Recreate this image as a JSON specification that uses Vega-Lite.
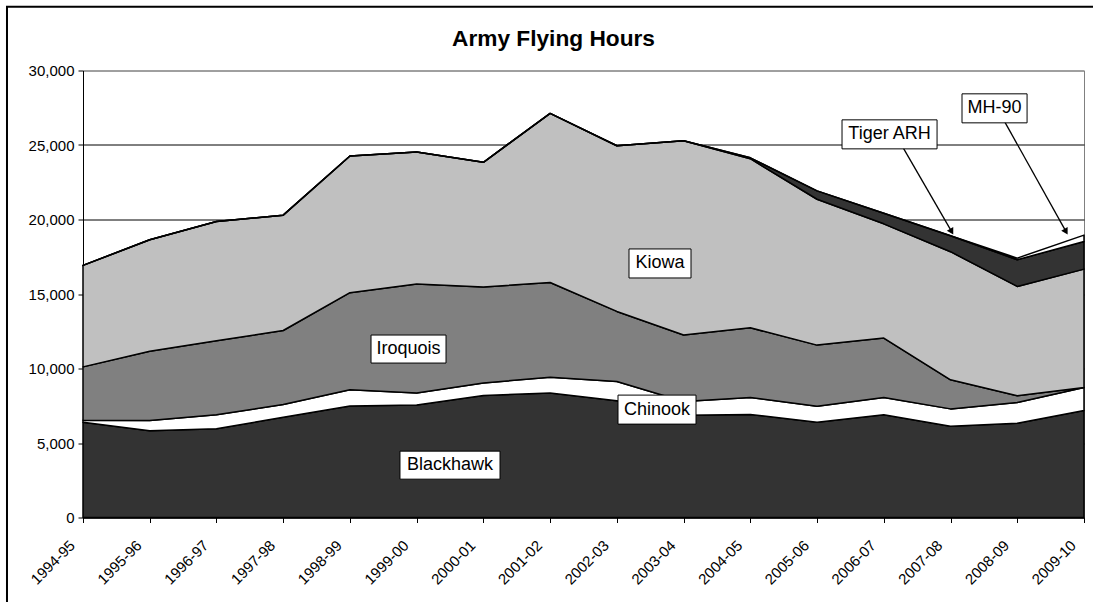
{
  "$schema": "https://vega.github.io/schema/vega-lite/v6.json",
  "width": 1001,
  "height": 447,
  "autosize": {"type": "none"},
  "padding": {"left": 83, "top": 70.5, "right": 9, "bottom": 84.5},
  "background": "white",
  "config": {
    "view": {"stroke": "#808080", "strokeWidth": 1},
    "font": "Liberation Sans"
  },
  "title": {
    "text": "Army Flying Hours",
    "font": "Liberation Sans",
    "fontSize": 22.7,
    "fontWeight": "bold",
    "color": "black",
    "anchor": "middle",
    "frame": "group",
    "baseline": "alphabetic",
    "dx": -30,
    "offset": -63
  },
  "datasets": {
    "flying": [
      {"fy": 1994, "series": "Blackhawk", "hours": 6400},
      {"fy": 1994, "series": "Chinook", "hours": 130},
      {"fy": 1994, "series": "Iroquois", "hours": 3580},
      {"fy": 1994, "series": "Kiowa", "hours": 6810},
      {"fy": 1994, "series": "Tiger ARH", "hours": 0},
      {"fy": 1994, "series": "MH-90", "hours": 0},
      {"fy": 1995, "series": "Blackhawk", "hours": 5820},
      {"fy": 1995, "series": "Chinook", "hours": 690},
      {"fy": 1995, "series": "Iroquois", "hours": 4650},
      {"fy": 1995, "series": "Kiowa", "hours": 7480},
      {"fy": 1995, "series": "Tiger ARH", "hours": 0},
      {"fy": 1995, "series": "MH-90", "hours": 0},
      {"fy": 1996, "series": "Blackhawk", "hours": 5950},
      {"fy": 1996, "series": "Chinook", "hours": 940},
      {"fy": 1996, "series": "Iroquois", "hours": 4970},
      {"fy": 1996, "series": "Kiowa", "hours": 8000},
      {"fy": 1996, "series": "Tiger ARH", "hours": 0},
      {"fy": 1996, "series": "MH-90", "hours": 0},
      {"fy": 1997, "series": "Blackhawk", "hours": 6730},
      {"fy": 1997, "series": "Chinook", "hours": 850},
      {"fy": 1997, "series": "Iroquois", "hours": 4970},
      {"fy": 1997, "series": "Kiowa", "hours": 7740},
      {"fy": 1997, "series": "Tiger ARH", "hours": 0},
      {"fy": 1997, "series": "MH-90", "hours": 0},
      {"fy": 1998, "series": "Blackhawk", "hours": 7490},
      {"fy": 1998, "series": "Chinook", "hours": 1080},
      {"fy": 1998, "series": "Iroquois", "hours": 6520},
      {"fy": 1998, "series": "Kiowa", "hours": 9170},
      {"fy": 1998, "series": "Tiger ARH", "hours": 0},
      {"fy": 1998, "series": "MH-90", "hours": 0},
      {"fy": 1999, "series": "Blackhawk", "hours": 7550},
      {"fy": 1999, "series": "Chinook", "hours": 810},
      {"fy": 1999, "series": "Iroquois", "hours": 7310},
      {"fy": 1999, "series": "Kiowa", "hours": 8860},
      {"fy": 1999, "series": "Tiger ARH", "hours": 0},
      {"fy": 1999, "series": "MH-90", "hours": 0},
      {"fy": 2000, "series": "Blackhawk", "hours": 8190},
      {"fy": 2000, "series": "Chinook", "hours": 840},
      {"fy": 2000, "series": "Iroquois", "hours": 6440},
      {"fy": 2000, "series": "Kiowa", "hours": 8370},
      {"fy": 2000, "series": "Tiger ARH", "hours": 0},
      {"fy": 2000, "series": "MH-90", "hours": 0},
      {"fy": 2001, "series": "Blackhawk", "hours": 8360},
      {"fy": 2001, "series": "Chinook", "hours": 1060},
      {"fy": 2001, "series": "Iroquois", "hours": 6350},
      {"fy": 2001, "series": "Kiowa", "hours": 11350},
      {"fy": 2001, "series": "Tiger ARH", "hours": 0},
      {"fy": 2001, "series": "MH-90", "hours": 0},
      {"fy": 2002, "series": "Blackhawk", "hours": 7830},
      {"fy": 2002, "series": "Chinook", "hours": 1300},
      {"fy": 2002, "series": "Iroquois", "hours": 4700},
      {"fy": 2002, "series": "Kiowa", "hours": 11120},
      {"fy": 2002, "series": "Tiger ARH", "hours": 0},
      {"fy": 2002, "series": "MH-90", "hours": 0},
      {"fy": 2003, "series": "Blackhawk", "hours": 6860},
      {"fy": 2003, "series": "Chinook", "hours": 930},
      {"fy": 2003, "series": "Iroquois", "hours": 4460},
      {"fy": 2003, "series": "Kiowa", "hours": 13040},
      {"fy": 2003, "series": "Tiger ARH", "hours": 0},
      {"fy": 2003, "series": "MH-90", "hours": 0},
      {"fy": 2004, "series": "Blackhawk", "hours": 6910},
      {"fy": 2004, "series": "Chinook", "hours": 1140},
      {"fy": 2004, "series": "Iroquois", "hours": 4680},
      {"fy": 2004, "series": "Kiowa", "hours": 11350},
      {"fy": 2004, "series": "Tiger ARH", "hours": 60},
      {"fy": 2004, "series": "MH-90", "hours": 0},
      {"fy": 2005, "series": "Blackhawk", "hours": 6400},
      {"fy": 2005, "series": "Chinook", "hours": 1070},
      {"fy": 2005, "series": "Iroquois", "hours": 4100},
      {"fy": 2005, "series": "Kiowa", "hours": 9790},
      {"fy": 2005, "series": "Tiger ARH", "hours": 560},
      {"fy": 2005, "series": "MH-90", "hours": 0},
      {"fy": 2006, "series": "Blackhawk", "hours": 6890},
      {"fy": 2006, "series": "Chinook", "hours": 1160},
      {"fy": 2006, "series": "Iroquois", "hours": 3990},
      {"fy": 2006, "series": "Kiowa", "hours": 7670},
      {"fy": 2006, "series": "Tiger ARH", "hours": 710},
      {"fy": 2006, "series": "MH-90", "hours": 0},
      {"fy": 2007, "series": "Blackhawk", "hours": 6130},
      {"fy": 2007, "series": "Chinook", "hours": 1160},
      {"fy": 2007, "series": "Iroquois", "hours": 1950},
      {"fy": 2007, "series": "Kiowa", "hours": 8600},
      {"fy": 2007, "series": "Tiger ARH", "hours": 1070},
      {"fy": 2007, "series": "MH-90", "hours": 0},
      {"fy": 2008, "series": "Blackhawk", "hours": 6330},
      {"fy": 2008, "series": "Chinook", "hours": 1390},
      {"fy": 2008, "series": "Iroquois", "hours": 450},
      {"fy": 2008, "series": "Kiowa", "hours": 7340},
      {"fy": 2008, "series": "Tiger ARH", "hours": 1790},
      {"fy": 2008, "series": "MH-90", "hours": 110},
      {"fy": 2009, "series": "Blackhawk", "hours": 7180},
      {"fy": 2009, "series": "Chinook", "hours": 1540},
      {"fy": 2009, "series": "Iroquois", "hours": 0},
      {"fy": 2009, "series": "Kiowa", "hours": 7950},
      {"fy": 2009, "series": "Tiger ARH", "hours": 1860},
      {"fy": 2009, "series": "MH-90", "hours": 420}
    ],
    "boxes": [
      {"label": "Kiowa", "x1": 2002.182, "x2": 2003.111, "y1": 16075, "y2": 18023, "tx": 2002.646, "ty": 17049},
      {"label": "Iroquois", "x1": 1998.316, "x2": 1999.44, "y1": 10365, "y2": 12246, "tx": 1998.878, "ty": 11305},
      {"label": "Chinook", "x1": 2002.017, "x2": 2003.186, "y1": 6267, "y2": 8215, "tx": 2002.601, "ty": 7241},
      {"label": "Blackhawk", "x1": 1998.75, "x2": 2000.249, "y1": 2573, "y2": 4454, "tx": 1999.5, "ty": 3513},
      {"label": "Tiger ARH", "x1": 2005.374, "x2": 2006.798, "y1": 24740, "y2": 26688, "tx": 2006.086, "ty": 25714},
      {"label": "MH-90", "x1": 2007.172, "x2": 2008.147, "y1": 26486, "y2": 28434, "tx": 2007.66, "ty": 27460}
    ],
    "arrows": [
      {"label": "Tiger ARH", "x1": 2006.293, "y1": 24787, "x2": 2007.017, "y2": 19185},
      {"label": "MH-90", "x1": 2007.802, "y1": 26640, "x2": 2008.731, "y2": 19185}
    ],
    "frame": [
      {"x1": 1992.861, "x2": 2009.6, "y1": 34278, "y2": -8000}
    ]
  },
  "layer": [
    {
      "data": {"name": "frame"},
      "mark": {"type": "rect", "fill": null, "fillOpacity": 0, "stroke": "black", "strokeWidth": 2, "clip": false},
      "encoding": {
        "x": {"field": "x1", "type": "quantitative", "scale": {"domain": [1994, 2009], "nice": false, "zero": false}},
        "x2": {"field": "x2"},
        "y": {"field": "y1", "type": "quantitative", "scale": {"domain": [0, 30000], "nice": false}},
        "y2": {"field": "y2"}
      }
    },
    {
      "data": {"name": "flying"},
      "transform": [
        {"calculate": "indexof(['Blackhawk', 'Chinook', 'Iroquois', 'Kiowa', 'Tiger ARH', 'MH-90'], datum.series)", "as": "stackRank"}
      ],
      "mark": {"type": "area", "stroke": "black", "strokeWidth": 1.5, "strokeJoin": "round", "fillOpacity": 1},
      "encoding": {
        "x": {
          "field": "fy",
          "type": "quantitative",
          "scale": {"domain": [1994, 2009], "nice": false, "zero": false},
          "axis": {
            "title": null,
            "values": [1994, 1995, 1996, 1997, 1998, 1999, 2000, 2001, 2002, 2003, 2004, 2005, 2006, 2007, 2008, 2009],
            "labelExpr": "datum.value + '-' + substring(toString(datum.value + 1), 2, 4)",
            "labelAngle": -45,
            "labelAlign": "right",
            "labelBaseline": "top",
            "labelPadding": 15,
            "labelOffset": -16,
            "labelFont": "Liberation Sans",
            "labelFontSize": 15,
            "labelColor": "black",
            "labelOverlap": false,
            "labelFlush": false,
            "labelBound": false,
            "grid": false,
            "tickColor": "black",
            "tickSize": 5,
            "domainColor": "black",
            "domainWidth": 1
          }
        },
        "y": {
          "field": "hours",
          "type": "quantitative",
          "stack": "zero",
          "scale": {"domain": [0, 30000], "nice": false},
          "axis": {
            "title": null,
            "values": [0, 5000, 10000, 15000, 20000, 25000, 30000],
            "format": ",.0f",
            "labelFont": "Liberation Sans",
            "labelFontSize": 15,
            "labelColor": "black",
            "labelPadding": 4,
            "labelFlush": false,
            "tickColor": "black",
            "tickSize": 5,
            "domainColor": "black",
            "domainWidth": 1,
            "grid": true,
            "gridColor": {"condition": {"test": "datum.value === 30000", "value": "#808080"}, "value": "#000000"},
            "gridWidth": 1
          }
        },
        "color": {
          "field": "series",
          "type": "nominal",
          "scale": {
            "domain": ["Blackhawk", "Chinook", "Iroquois", "Kiowa", "Tiger ARH", "MH-90"],
            "range": ["#333333", "#ffffff", "#808080", "#c0c0c0", "#333333", "#ffffff"]
          },
          "legend": null
        },
        "order": {"field": "stackRank", "type": "quantitative", "sort": "ascending"}
      }
    },
    {
      "data": {"name": "arrows"},
      "mark": {"type": "rule", "color": "black", "strokeWidth": 1.3},
      "encoding": {
        "x": {"field": "x1", "type": "quantitative"},
        "x2": {"field": "x2"},
        "y": {"field": "y1", "type": "quantitative"},
        "y2": {"field": "y2"}
      }
    },
    {
      "data": {"name": "arrows"},
      "mark": {"type": "point", "shape": "triangle-up", "filled": true, "color": "black", "size": 55, "angle": 150, "opacity": 1},
      "encoding": {
        "x": {"field": "x2", "type": "quantitative"},
        "y": {"field": "y2", "type": "quantitative"}
      }
    },
    {
      "data": {"name": "boxes"},
      "mark": {"type": "rect", "fill": "white", "stroke": "black", "strokeWidth": 1},
      "encoding": {
        "x": {"field": "x1", "type": "quantitative"},
        "x2": {"field": "x2"},
        "y": {"field": "y1", "type": "quantitative"},
        "y2": {"field": "y2"}
      }
    },
    {
      "data": {"name": "boxes"},
      "mark": {"type": "text", "font": "Liberation Sans", "fontSize": 18, "color": "black", "align": "center", "baseline": "middle"},
      "encoding": {
        "x": {"field": "tx", "type": "quantitative"},
        "y": {"field": "ty", "type": "quantitative"},
        "text": {"field": "label"}
      }
    }
  ]
}
